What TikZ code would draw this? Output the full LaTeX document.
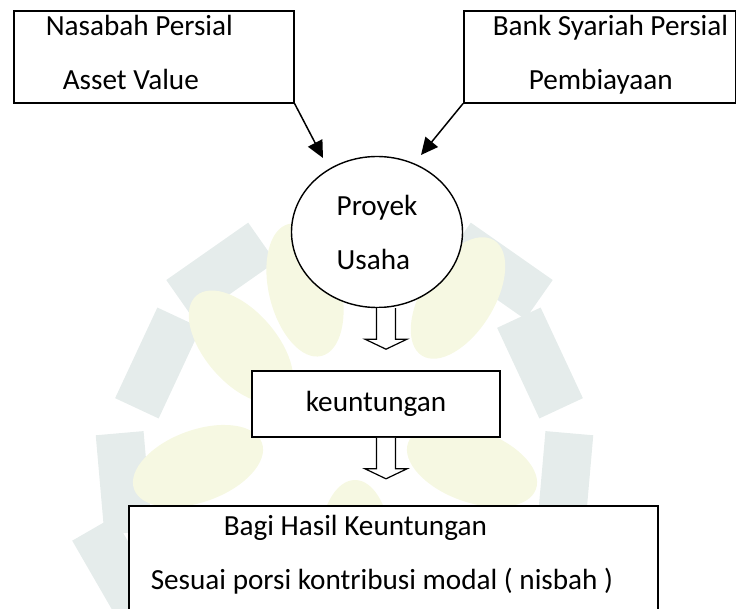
\documentclass[tikz,border=0pt]{standalone}
\usepackage{fontspec}
\setmainfont{Carlito}
\usepackage{tikz}
\usetikzlibrary{arrows.meta, positioning, shapes.geometric}

\definecolor{wmgray}{RGB}{229,236,235}
\definecolor{wmyellow}{RGB}{246,248,226}

\begin{document}
\begin{tikzpicture}[
    x=1pt, y=-1pt,
    every node/.style={font=\fontsize{29.2pt}{54pt}\selectfont},
    box/.style={rectangle, draw=black, line width=1.6pt, fill=white, inner sep=0pt, align=flush left},
    topbox/.style={box, anchor=north west, text height=25pt, text depth=67pt},
    oval/.style={ellipse, draw=black, line width=1.4pt, fill=white, inner sep=0pt, minimum width=171pt, minimum height=151pt, align=flush left},
    arrow/.style={-{Triangle[length=17pt, width=16pt]}, line width=1.5pt},
    downarrow/.pic={\filldraw[fill=white, line width=1.2pt] (-9.5,0) -- (-9.5,31) -- (-21,31) -- (0,41) -- (21,31) -- (9.5,31) -- (9.5,0);},
  ]
  \useasboundingbox (0,0) rectangle (736,609);
  \clip (0,0) rectangle (736,609);

  % faint logo in the background
  \foreach \x/\y/\a in {221/271/35, 498/271/-35, 158/363/65, 540/363/-65, 124/483/95, 565/483/-95, 118/572/120, 600/572/-120}
    \fill[wmgray, rotate around={\a:(\x,\y)}] (\x-50,\y-24) rectangle (\x+50,\y+24);
  \foreach \x/\y/\a in {241/347/131, 305/290/104, 458/298/58, 472/466/-20, 198/466/20, 355/548/90}
    \fill[wmyellow, rotate around={\a:(\x,\y)}] (\x,\y) ellipse [x radius=68pt, y radius=36pt];

  \node[topbox, text width=280pt] (nasabah) at (13,10) {\hspace*{32pt}Nasabah Persial\\\hspace*{49pt}Asset Value};
  \node[topbox, text width=272pt] (bank) at (463,10) {\hspace*{29pt}Bank Syariah Persial\\\hspace*{65pt}Pembiayaan};
  \node[oval] (proyek) at (377,232) {Proyek\\Usaha};
  \node[box, minimum width=248pt, minimum height=66pt] (keuntungan) at (376,404) {keuntungan};
  \node[box, anchor=north west, text width=529pt, text height=30pt, text depth=150pt] (bagihasil) at (128,505) {\hspace*{95pt}Bagi Hasil Keuntungan\\\hspace*{22pt}Sesuai porsi kontribusi modal ( nisbah )};

  \coordinate (tipL) at (323,158);
  \coordinate (tipR) at (421,155);
  \draw[arrow] (nasabah.south east) -- (tipL);
  \draw[arrow] (bank.south west) -- (tipR);

  \pic (arrA) at ([xshift=9pt]proyek.south) {downarrow};
  \pic (arrB) at ([xshift=10pt]keuntungan.south) {downarrow};
\end{tikzpicture}
\end{document}
